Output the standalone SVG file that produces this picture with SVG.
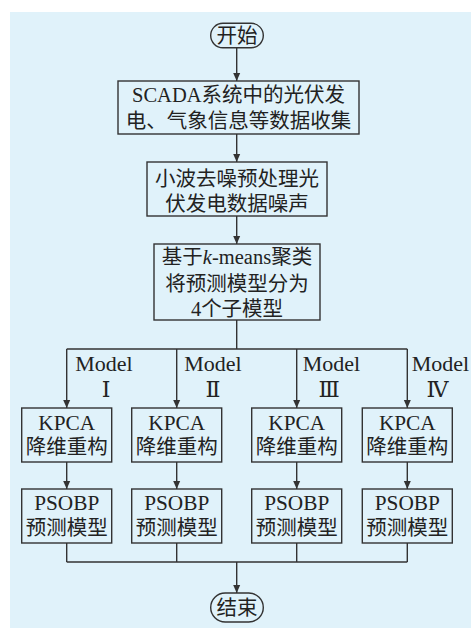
<svg xmlns="http://www.w3.org/2000/svg" width="471" height="629" viewBox="0 0 471 629">
<defs>
<marker id="ah" viewBox="0 0 8 10" refX="8" refY="5" markerWidth="8" markerHeight="10" markerUnits="userSpaceOnUse" orient="auto">
<path d="M0,1.5 L8,5 L0,8.5 Z" fill="#333"/>
</marker>
<style>
.bg{fill:#e0f2fa}
.box{fill:none;stroke:#333;stroke-width:1.4}
.ln{fill:none;stroke:#333;stroke-width:1.4}
.arr{fill:none;stroke:#333;stroke-width:1.4;marker-end:url(#ah)}
text{font-family:"Liberation Serif","Noto Sans CJK SC",serif;fill:#222;text-anchor:middle}
.t{font-size:20.5px}
.s{font-size:20.5px}
.l{font-size:21.3px}
.m{font-size:22px}
.r{font-family:"DejaVu Serif","Liberation Serif","Noto Sans CJK SC",serif;font-size:22px}
</style>
</defs>
<rect class="bg" x="10" y="12" width="461" height="616"/>
<g id="connectors">
<path class="arr" d="M236.7,48 V81"/>
<path class="arr" d="M236.7,134 V162"/>
<path class="arr" d="M236.7,216 V244"/>
<path class="ln" d="M236.7,320 V349 M66.7,349 H407.3"/>
<path class="arr" d="M66.7,349 V408"/>
<path class="arr" d="M176.7,349 V408"/>
<path class="arr" d="M296.7,349 V408"/>
<path class="arr" d="M407.3,349 V408"/>
<path class="arr" d="M66.7,462 V489"/>
<path class="arr" d="M176.7,462 V489"/>
<path class="arr" d="M296.7,462 V489"/>
<path class="arr" d="M407.3,462 V489"/>
<path class="ln" d="M66.7,543 V562 M176.7,543 V562 M296.7,543 V562 M407.3,543 V562 M66.7,562 H407.3"/>
<path class="arr" d="M236.7,562 V593"/>
<g id="labels">
<text class="m" x="104" y="371">Model</text>
<text class="r" x="106" y="397">Ⅰ</text>
<text class="m" x="213" y="371">Model</text>
<text class="r" x="213" y="397">Ⅱ</text>
<text class="m" x="331.5" y="371">Model</text>
<text class="r" x="329" y="397">Ⅲ</text>
<text class="m" x="440.5" y="371">Model</text>
<text class="r" x="437.5" y="397">Ⅳ</text>
</g>
</g>
<g id="start">
<rect class="box" x="210.7" y="23.3" width="52.6" height="24.5" rx="12.2"/>
<text class="t" x="237" y="43">开始</text>
</g>
<g id="collect">
<rect class="box" x="118" y="81" width="241" height="53"/>
<text class="t" x="238.5" y="102">SCADA系统中的光伏发</text>
<text class="t" x="238.5" y="128">电、气象信息等数据收集</text>
</g>
<g id="denoise">
<rect class="box" x="147" y="162" width="180" height="54"/>
<text class="t" x="237" y="186">小波去噪预处理光</text>
<text class="t" x="237" y="211">伏发电数据噪声</text>
</g>
<g id="cluster">
<rect class="box" x="154" y="244" width="166" height="76"/>
<text class="t" x="237" y="264">基于<tspan font-style="italic">k</tspan>-means聚类</text>
<text class="t" x="237" y="291">将预测模型分为</text>
<text class="t" x="237" y="316">4个子模型</text>
</g>
<g id="kpca1">
<rect class="box" x="21.7" y="408" width="90" height="54"/>
<text class="l" x="66.7" y="430">KPCA</text>
<text class="s" x="66.7" y="454">降维重构</text>
</g>
<g id="kpca2">
<rect class="box" x="131.7" y="408" width="90" height="54"/>
<text class="l" x="176.7" y="430">KPCA</text>
<text class="s" x="176.7" y="454">降维重构</text>
</g>
<g id="kpca3">
<rect class="box" x="251.7" y="408" width="90" height="54"/>
<text class="l" x="296.7" y="430">KPCA</text>
<text class="s" x="296.7" y="454">降维重构</text>
</g>
<g id="kpca4">
<rect class="box" x="362.3" y="408" width="90" height="54"/>
<text class="l" x="407.3" y="430">KPCA</text>
<text class="s" x="407.3" y="454">降维重构</text>
</g>
<g id="psobp1">
<rect class="box" x="21.7" y="489" width="90" height="54"/>
<text class="l" x="66.7" y="510">PSOBP</text>
<text class="s" x="66.7" y="535">预测模型</text>
</g>
<g id="psobp2">
<rect class="box" x="131.7" y="489" width="90" height="54"/>
<text class="l" x="176.7" y="510">PSOBP</text>
<text class="s" x="176.7" y="535">预测模型</text>
</g>
<g id="psobp3">
<rect class="box" x="251.7" y="489" width="90" height="54"/>
<text class="l" x="296.7" y="510">PSOBP</text>
<text class="s" x="296.7" y="535">预测模型</text>
</g>
<g id="psobp4">
<rect class="box" x="362.3" y="489" width="90" height="54"/>
<text class="l" x="407.3" y="510">PSOBP</text>
<text class="s" x="407.3" y="535">预测模型</text>
</g>
<g id="end">
<rect class="box" x="210.7" y="593" width="52.6" height="29" rx="14.5"/>
<text class="t" x="237" y="615">结束</text>
</g>
</svg>
